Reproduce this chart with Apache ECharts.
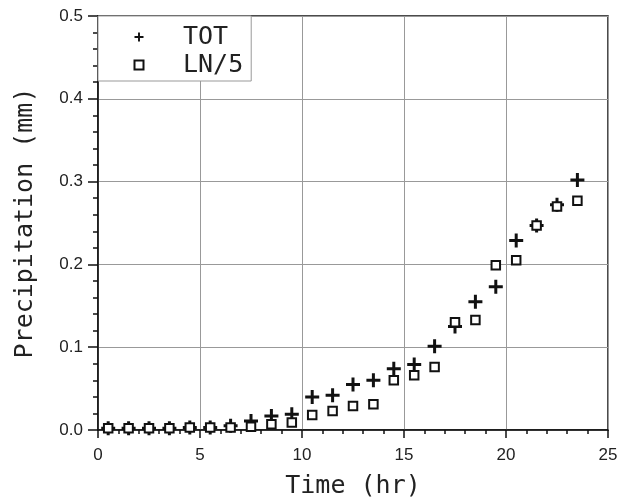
<!DOCTYPE html>
<html>
<head>
<meta charset="utf-8">
<script src="https://cdn.jsdelivr.net/npm/echarts@6/dist/echarts.min.js"></script>
<style>html,body{margin:0;padding:0;background:#fff}#c{width:631px;height:504px}</style>
</head>
<body>
<div id="c"></div>
<script>
const timeHr = [0.5,1.5,2.5,3.5,4.5,5.5,6.5,7.5,8.5,9.5,10.5,11.5,12.5,13.5,14.5,15.5,16.5,17.5,18.5,19.5,20.5,21.5,22.5,23.5];
const tot = [0.002,0.002,0.002,0.002,0.003,0.003,0.005,0.011,0.017,0.019,0.040,0.042,0.055,0.060,0.074,0.079,0.101,0.125,0.155,0.173,0.229,0.247,0.272,0.302];
const ln5 = [0.002,0.002,0.002,0.002,0.003,0.003,0.003,0.004,0.007,0.009,0.018,0.023,0.029,0.031,0.060,0.066,0.076,0.130,0.133,0.199,0.205,0.247,0.270,0.277];
const seriesNames = ['TOT','LN/5'];
const xTitle = 'Time (hr)';
const yTitle = 'Precipitation (mm)';

const plusPath = 'path://M5.5,0h3v5.5h5.5v3h-5.5v5.5h-3v-5.5h-5.5v-3h5.5z';
const toPairs = (xs, ys) => xs.map((x, i) => [x, ys[i]]);

const chart = echarts.init(document.getElementById('c'), null, {renderer: 'canvas'});
const labelFont = {fontFamily: 'Liberation Sans, Arial, sans-serif', fontSize: 17, color: '#222'};
const titleFont = {fontFamily: 'DejaVu Sans Mono, monospace', fontSize: 25, color: '#222'};
chart.setOption({
  animation: false,
  backgroundColor: '#fff',
  grid: {left: 98, right: 23, top: 16, bottom: 74, show: true, borderColor: '#111', borderWidth: 1.5, backgroundColor: 'transparent'},
  legend: {
    orient: 'vertical', left: 98, top: 16,
    backgroundColor: '#fff', borderColor: '#999', borderWidth: 1,
    padding: [7, 8, 2, 35.5], itemGap: 0, itemWidth: 9, itemHeight: 9,
    textStyle: {fontFamily: 'DejaVu Sans Mono, monospace', fontSize: 25, color: '#222', padding: [0, 0, 0, 34.5], lineHeight: 28},
    data: [{name: seriesNames[0], icon: plusPath}, {name: seriesNames[1], icon: 'rect'}]
  },
  xAxis: {
    type: 'value', min: 0, max: 25, interval: 5,
    name: xTitle, nameLocation: 'middle', nameGap: 44, nameTextStyle: titleFont,
    axisLine: {onZero: false, lineStyle: {color: '#111', width: 1.5}},
    axisTick: {show: true, length: 8, lineStyle: {color: '#111', width: 1.5}},
    minorTick: {show: true, splitNumber: 5, length: 4, lineStyle: {color: '#111', width: 1.5}},
    axisLabel: Object.assign({margin: 17}, labelFont),
    splitLine: {show: true, lineStyle: {color: '#999', width: 1}}
  },
  yAxis: {
    type: 'value', min: 0, max: 0.5, interval: 0.1,
    name: yTitle, nameLocation: 'middle', nameGap: 60, nameTextStyle: titleFont,
    axisLine: {onZero: false, lineStyle: {color: '#111', width: 1.5}},
    axisTick: {show: true, length: 10, lineStyle: {color: '#111', width: 1.5}},
    minorTick: {show: true, splitNumber: 5, length: 5, lineStyle: {color: '#111', width: 1.5}},
    axisLabel: Object.assign({margin: 15, formatter: v => v.toFixed(1)}, labelFont),
    splitLine: {show: true, lineStyle: {color: '#999', width: 1}}
  },
  series: [
    {name: seriesNames[0], type: 'scatter', data: toPairs(timeHr, tot), symbol: plusPath, symbolSize: 14,
     itemStyle: {color: '#111', opacity: 1}},
    {name: seriesNames[1], type: 'scatter', data: toPairs(timeHr, ln5), symbol: 'rect', symbolSize: 8.5,
     itemStyle: {color: '#fff', borderColor: '#111', borderWidth: 2, opacity: 1}}
  ]
});
</script>
</body>
</html>
